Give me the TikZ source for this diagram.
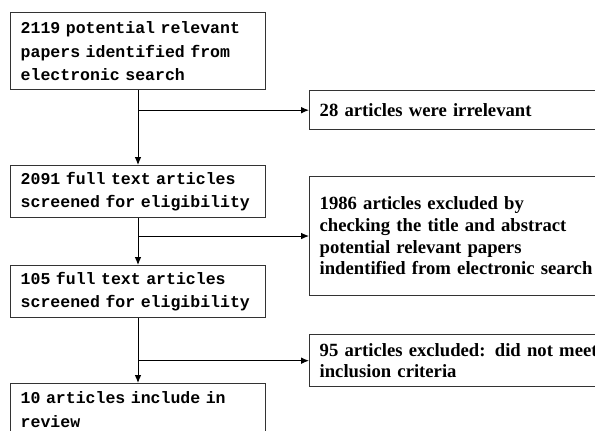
\documentclass[tikz,border=0pt]{standalone}
\usepackage{fontspec}
\setmainfont{Liberation Serif}
\newfontfamily\monofont{Liberation Mono}
\usetikzlibrary{arrows.meta}

\tikzset{every picture/.style={line width=0.75pt}}

\begin{document}
\begin{tikzpicture}[x=0.75pt,y=0.75pt,yscale=-1,xscale=1,
  leftbox/.style={draw=black!80, line width=1pt, anchor=north west, align=left, text width=176pt, inner xsep=7.5pt, inner ysep=2pt, font=\monofont\bfseries\fontsize{12.4}{17.4}\selectfont},
  rightbox/.style={draw=black!80, line width=1pt, anchor=north west, align=left, text width=225pt, inner xsep=7.5pt, inner ysep=2pt, font=\bfseries\fontsize{14}{16.3}\selectfont},
  flow/.style={-{Latex[length=6pt,width=5pt]}, line width=0.75pt}]
\useasboundingbox (0,0) rectangle (595,430);
\clip (0,0) rectangle (595,430);

% Left column
\node [leftbox, minimum height=57.75pt] (found) at (10,12) {2119 potential relevant\\papers identified from\\electronic search};
\node [leftbox, minimum height=39pt] (full) at (10,165) {2091 full text articles\\screened for eligibility};
\node [leftbox, minimum height=39pt] (screen) at (10,265) {105 full text articles\\screened for eligibility};
\node [leftbox, minimum height=39pt] (incl) at (10,383) {10 articles include in\\review};

% Right column
\node [rightbox, minimum height=29.25pt] (irrel) at (309,90) {28 articles were irrelevant};
\node [rightbox, minimum height=89pt] (title) at (309,176) {1986 articles excluded by\\checking the title and abstract\\potential relevant papers\\indentified from electronic search};
\node [rightbox, minimum height=39pt] (crit) at (309,334) {95 articles excluded: did not meet\\inclusion criteria};

% Straight Lines
\draw [flow] (found.south) -- (full.north);
\draw [flow] (full.south) -- (screen.north);
\draw [flow] (screen.south) -- (incl.north);
\draw [flow] (found.south |- irrel.west) -- (irrel.west);
\draw [flow] (full.south |- title.west) -- (title.west);
\draw [flow] (screen.south |- crit.west) -- (crit.west);

\end{tikzpicture}
\end{document}
